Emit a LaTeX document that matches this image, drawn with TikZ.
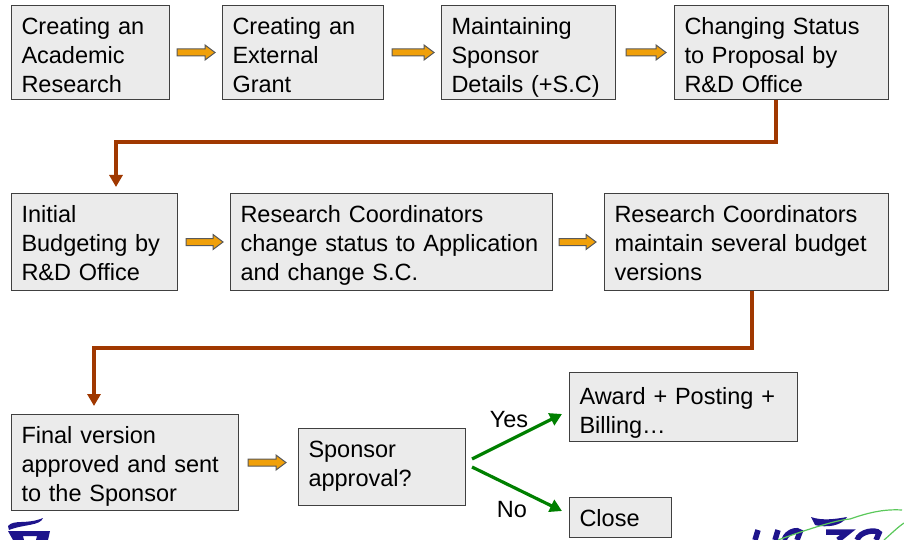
\documentclass[tikz,border=0pt]{standalone}
\usepackage{fontspec}
\setmainfont{Liberation Sans}
\usetikzlibrary{arrows.meta,calc}
\definecolor{flowredc}{RGB}{160,56,0}
\definecolor{flowgreenc}{RGB}{0,128,0}
\definecolor{orangec}{RGB}{240,160,10}
\definecolor{logoblue}{RGB}{30,20,140}
\definecolor{logogreen}{RGB}{90,200,90}
\tikzset{
  x=1pt,y=-1pt,
  procbox/.style={draw=black!75,line width=1pt,fill=black!8,anchor=north west,inner xsep=10pt,inner ysep=0pt,align=left,font=\fontsize{23.5}{29}\selectfont},
  blockarrow/.style={draw=black!65,fill=orangec,line width=1pt,
    to path={let \p1=(\tikztostart),\p2=(\tikztotarget) in
      (\x1,\y1+3.5pt) -- (\x2-10pt,\y1+3.5pt) -- (\x2-10pt,\y1+7.5pt) -- (\x2,\y1) -- (\x2-10pt,\y1-7.5pt) -- (\x2-10pt,\y1-3.5pt) -- (\x1,\y1-3.5pt) -- cycle}},
  flowred/.style={color=flowredc,line width=3.5pt,-{Triangle[length=12pt,width=13pt]}},
  flowgreen/.style={color=flowgreenc,line width=3.2pt,-{Triangle[length=12pt,width=13pt]}},
  plainlabel/.style={font=\fontsize{23.5}{29}\selectfont,inner sep=0pt}
}
% name, x, y, width, rule above first baseline, rule below last baseline, first line, rest
\newcommand{\pbox}[8]{\node[procbox,text width=#4-20pt] (#1) at (#2,#3) {\rule{0pt}{#5}#7#8\rule[-#6]{0pt}{#6}};}
\begin{document}
\begin{tikzpicture}
\useasboundingbox (0,0) rectangle (904,540);
\pbox{a}{11}{5}{158pt}{29pt}{7pt}{Creating an}{\\Academic\\Research}
\pbox{b}{222}{5}{161pt}{29pt}{7pt}{Creating an}{\\External\\Grant}
\pbox{c}{441}{5}{174pt}{29pt}{7pt}{Maintaining}{\\Sponsor\\Details (+S.C)}
\pbox{d}{674}{5}{214pt}{29pt}{7pt}{Changing Status}{\\to Proposal by\\R\&D Office}
\pbox{e}{11}{193}{166pt}{29pt}{10pt}{Initial}{\\Budgeting by\\R\&D Office}
\pbox{f}{230}{193}{322pt}{29pt}{10pt}{Research Coordinators}{\\change status to Application\\and change S.C.}
\pbox{g}{604}{193}{284pt}{29pt}{10pt}{Research Coordinators}{\\maintain several budget\\versions}
\pbox{h}{11}{414}{227pt}{29pt}{9pt}{Final version}{\\approved and sent\\to the Sponsor}
\pbox{i}{298}{428}{167pt}{29pt}{19pt}{Sponsor}{\\approval?}
\pbox{j}{569}{372}{228pt}{32pt}{8pt}{Award + Posting +}{\\Billing…}
\pbox{k}{569}{497}{102pt}{29pt}{11pt}{Close}{}
\draw[blockarrow] ([xshift=7pt]a.east) to ([xshift=-7pt]b.west);
\draw[blockarrow] ([xshift=8pt]b.east) to ([xshift=-7pt]c.west);
\draw[blockarrow] ([xshift=10pt]c.east) to ([xshift=-8pt]d.west);
\draw[blockarrow] ([xshift=8pt]e.east) to ([xshift=-7pt]f.west);
\draw[blockarrow] ([xshift=6pt]f.east) to ([xshift=-8pt]g.west);
\draw[blockarrow] ([xshift=9pt]h.east) to ([xshift=-12pt]i.west);
\coordinate (r1a) at (776,142);
\coordinate (r1b) at (116,142);
\coordinate (r2a) at (752,348);
\coordinate (r2b) at (94,348);
\coordinate (ga) at (472,459);
\coordinate (gb) at (472,467);
\coordinate (gc) at (562,414);
\coordinate (gd) at (562,511);
\coordinate (tr1) at (116,187);
\coordinate (tr2) at (94,406);
\draw[flowred] (d.south -| r1a) -- (r1a) -- (r1b) -- (tr1);
\draw[flowred] (g.south -| r2a) -- (r2a) -- (r2b) -- (tr2);
\draw[flowgreen] (ga) -- (gc);
\draw[flowgreen] (gb) -- (gd);
\node[plainlabel] (yes) at (509,420) {Yes};
\node[plainlabel] (no) at (512,510) {No};
% left logo
\fill[logoblue] (8,526) .. controls (14,519) and (26,525) .. (43,518) .. controls (40,526) and (24,524) .. (9,530) -- cycle;
\fill[logoblue,even odd rule] (8,531) -- (50,531) -- (48,540) -- (13,540) -- cycle
  (23,536) -- (37,536) -- (36,540) -- (24,540) -- cycle;
% right logo
\begin{scope}
\clip (700,500) rectangle (904,540);
\draw[logoblue,line width=5.5pt] (758,530) -- (755,540);
\draw[logoblue,line width=5.5pt] (778,530) -- (775,540);
\draw[logoblue,line width=5.5pt] (784,540) .. controls (787,531) and (798,529) .. (800,532) -- (797,540);
\fill[logoblue] (811,517) .. controls (822,521) and (836,519) .. (847,517) .. controls (842,526) and (826,528) .. (815,525) -- cycle;
\draw[logoblue,line width=5.5pt] (826,532) -- (848,532) -- (838,540);
\draw[logoblue,line width=5.5pt] (857,540) .. controls (860,531) and (876,529) .. (879,533) -- (876,540);
\draw[logogreen,line width=1.2pt] (778,540) .. controls (800,532) and (835,520) .. (850,519) .. controls (870,512) and (885,509) .. (902,510);
\draw[logogreen,line width=1.2pt] (884,540) .. controls (892,533) and (898,527) .. (904,523);
\end{scope}
\end{tikzpicture}
\end{document}
